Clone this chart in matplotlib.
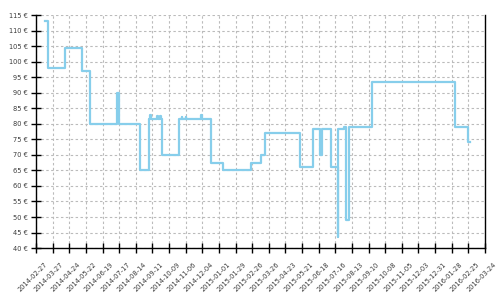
import matplotlib
matplotlib.use('Agg')
import matplotlib.pyplot as plt
import matplotlib.transforms as mtransforms
import pandas as pd

# price history (step changes)
dates = ['2014-03-14', '2014-03-19', '2014-04-16', '2014-05-15', '2014-05-29',
         '2014-07-13', '2014-07-16', '2014-08-21', '2014-09-05', '2014-09-07',
         '2014-09-09', '2014-09-19', '2014-09-20', '2014-09-24', '2014-09-25',
         '2014-09-27', '2014-10-26', '2014-10-30', '2014-10-31', '2014-11-06',
         '2014-11-07', '2014-12-02', '2014-12-03', '2014-12-18', '2015-01-08',
         '2015-02-24', '2015-03-12', '2015-03-20', '2015-05-18', '2015-06-08',
         '2015-06-21', '2015-06-24', '2015-07-08', '2015-07-20', '2015-07-21',
         '2015-07-30', '2015-08-03', '2015-08-08', '2015-09-16', '2016-02-02',
         '2016-02-24', '2016-02-27']
prices = [112.99, 97.99, 104.49, 96.99, 79.99,
          89.99, 79.99, 64.99, 81.49, 82.79,
          81.49, 82.49, 81.49, 82.49, 81.49,
          69.99, 81.49, 82.19, 81.49, 82.19,
          81.49, 82.79, 81.49, 67.49, 64.99,
          67.49, 69.99, 76.99, 65.99, 78.19,
          69.99, 78.19, 65.99, 43.49, 78.19,
          79.09, 48.99, 79.09, 93.29, 79.09,
          73.99, 73.99]

tick_start = '2014-02-27'
tick_end = '2016-03-24'
y_ticks = list(range(40, 116, 5))

x = pd.to_datetime(dates)
x_ticks = pd.date_range(tick_start, tick_end, freq='28D')

fig = plt.figure(figsize=(5, 3), dpi=100)
ax = fig.add_axes([0.072, 0.173, 0.898, 0.777])

ax.plot(x, prices, drawstyle='steps-post', color='#87ceeb', linewidth=1.6)

ax.set_xlim(x_ticks[0], x_ticks[-1])
ax.set_ylim(40, 115)
ax.set_yticks(y_ticks)
ax.set_yticklabels(['{} €'.format(v) for v in y_ticks])
ax.set_xticks(x_ticks)
ax.set_xticklabels([d.strftime('%Y-%m-%d') for d in x_ticks], rotation=45,
                   ha='right', va='center', rotation_mode='anchor')

ax.grid(True, color='#bbbbbb', linestyle=(0, (2.2, 2.2)), linewidth=0.8)
ax.set_axisbelow(True)
ax.spines['top'].set_visible(False)
for s in ['left', 'bottom', 'right']:
    ax.spines[s].set_linewidth(1.0)
    ax.spines[s].set_color('black')

ax.tick_params(axis='both', direction='inout', length=6.5, width=1.0,
               labelsize=4.8, labelcolor='#3a3a3a')
ax.tick_params(axis='x', pad=8)
ax.tick_params(axis='y', pad=2.5)

# shift rotated date labels a little to the right
offset = mtransforms.ScaledTranslation(0.10, 0, fig.dpi_scale_trans)
for lbl in ax.get_xticklabels():
    lbl.set_transform(lbl.get_transform() + offset)

fig.savefig('out.png', dpi=100)
